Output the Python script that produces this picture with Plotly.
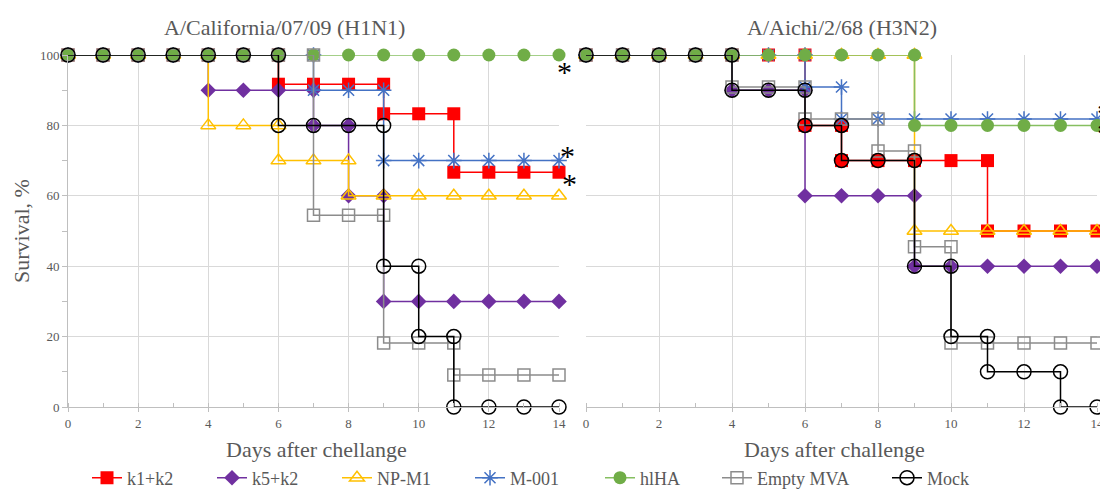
import plotly.graph_objects as go

# page body adds an 8px margin, so the figure is drawn 8px in from the top-left
OFF = 8
W, H = 1108 - OFF, 495 - OFF

series_names = ["k1+k2", "k5+k2", "NP-M1", "M-001", "hlHA", "Empty MVA", "Mock"]

# ---- A/California/07/09 (H1N1) : step-survival curves (day, survival %) ----
h1_k1k2_day = [0, 1, 2, 3, 4, 5, 6, 6, 7, 8, 9, 9, 10, 11, 11, 12, 13, 14]
h1_k1k2_surv = [100, 100, 100, 100, 100, 100, 100, 91.7, 91.7, 91.7, 91.7, 83.3, 83.3, 83.3, 66.7, 66.7, 66.7, 66.7]

h1_k5k2_day = [0, 1, 2, 3, 4, 4, 5, 6, 7, 7, 8, 8, 9, 9, 10, 11, 12, 13, 14]
h1_k5k2_surv = [100, 100, 100, 100, 100, 90, 90, 90, 90, 80, 80, 60, 60, 30, 30, 30, 30, 30, 30]

h1_npm1_day = [0, 1, 2, 3, 4, 4, 5, 6, 6, 7, 8, 8, 9, 10, 11, 12, 13, 14]
h1_npm1_surv = [100, 100, 100, 100, 100, 80, 80, 80, 70, 70, 70, 60, 60, 60, 60, 60, 60, 60]

h1_m001_day = [0, 1, 2, 3, 4, 5, 6, 7, 7, 8, 9, 9, 10, 11, 12, 13, 14]
h1_m001_surv = [100, 100, 100, 100, 100, 100, 100, 100, 90, 90, 90, 70, 70, 70, 70, 70, 70]

h1_hlha_day = [0, 1, 2, 3, 4, 5, 6, 7, 8, 9, 10, 11, 12, 13, 14]
h1_hlha_surv = [100, 100, 100, 100, 100, 100, 100, 100, 100, 100, 100, 100, 100, 100, 100]

h1_empty_day = [0, 1, 2, 3, 4, 5, 6, 7, 7, 8, 9, 9, 10, 11, 11, 12, 13, 14]
h1_empty_surv = [100, 100, 100, 100, 100, 100, 100, 100, 54.5, 54.5, 54.5, 18.2, 18.2, 18.2, 9.1, 9.1, 9.1, 9.1]

h1_mock_day = [0, 1, 2, 3, 4, 5, 6, 6, 7, 8, 9, 9, 10, 10, 11, 11, 12, 13, 14]
h1_mock_surv = [100, 100, 100, 100, 100, 100, 100, 80, 80, 80, 80, 40, 40, 20, 20, 0, 0, 0, 0]

# ---- A/Aichi/2/68 (H3N2) ----
h3_k1k2_day = [0, 1, 2, 3, 4, 5, 6, 6, 7, 7, 8, 9, 10, 11, 11, 12, 13, 14]
h3_k1k2_surv = [100, 100, 100, 100, 100, 100, 100, 80, 80, 70, 70, 70, 70, 70, 50, 50, 50, 50]

h3_k5k2_day = [0, 1, 2, 3, 4, 4, 5, 6, 6, 7, 8, 9, 9, 10, 11, 12, 13, 14]
h3_k5k2_surv = [100, 100, 100, 100, 100, 90, 90, 90, 60, 60, 60, 60, 40, 40, 40, 40, 40, 40]

h3_npm1_day = [0, 1, 2, 3, 4, 5, 6, 7, 8, 9, 9, 10, 11, 12, 13, 14]
h3_npm1_surv = [100, 100, 100, 100, 100, 100, 100, 100, 100, 100, 50, 50, 50, 50, 50, 50]

h3_m001_day = [0, 1, 2, 3, 4, 5, 6, 6, 7, 7, 8, 9, 10, 11, 12, 13, 14]
h3_m001_surv = [100, 100, 100, 100, 100, 100, 100, 90.9, 90.9, 81.8, 81.8, 81.8, 81.8, 81.8, 81.8, 81.8, 81.8]

h3_hlha_day = [0, 1, 2, 3, 4, 5, 6, 7, 8, 9, 9, 10, 11, 12, 13, 14]
h3_hlha_surv = [100, 100, 100, 100, 100, 100, 100, 100, 100, 100, 80, 80, 80, 80, 80, 80]

h3_empty_day = [0, 1, 2, 3, 4, 4, 5, 6, 6, 7, 8, 8, 9, 9, 10, 10, 11, 12, 13, 14]
h3_empty_surv = [100, 100, 100, 100, 100, 90.9, 90.9, 90.9, 81.8, 81.8, 81.8, 72.7, 72.7, 45.5, 45.5, 18.2, 18.2, 18.2, 18.2, 18.2]

h3_mock_day = [0, 1, 2, 3, 4, 4, 5, 6, 6, 7, 7, 8, 9, 9, 10, 10, 11, 11, 12, 13, 13, 14]
h3_mock_surv = [100, 100, 100, 100, 100, 90, 90, 90, 80, 80, 70, 70, 70, 40, 40, 20, 20, 10, 10, 10, 0, 0]

panel_titles = ["A/California/07/09 (H1N1)", "A/Aichi/2/68 (H3N2)"]
x_titles = ["Days after chellange", "Days after challenge"]
y_title = "Survival, %"
x_tickvals = [0, 2, 4, 6, 8, 10, 12, 14]
y_tickvals = [0, 20, 40, 60, 80, 100]

h1_data = [(h1_k1k2_day, h1_k1k2_surv), (h1_k5k2_day, h1_k5k2_surv), (h1_npm1_day, h1_npm1_surv),
           (h1_m001_day, h1_m001_surv), (h1_hlha_day, h1_hlha_surv), (h1_empty_day, h1_empty_surv),
           (h1_mock_day, h1_mock_surv)]
h3_data = [(h3_k1k2_day, h3_k1k2_surv), (h3_k5k2_day, h3_k5k2_surv), (h3_npm1_day, h3_npm1_surv),
           (h3_m001_day, h3_m001_surv), (h3_hlha_day, h3_hlha_surv), (h3_empty_day, h3_empty_surv),
           (h3_mock_day, h3_mock_surv)]

# ---- styles ----
styles = [
    dict(line=dict(color="#FF0000", width=1.5), marker=dict(symbol="square", size=13, color="#FF0000")),
    dict(line=dict(color="#7030A0", width=1.5), marker=dict(symbol="diamond", size=12, color="#7030A0")),
    dict(line=dict(color="#FFC000", width=1.5), marker=dict(symbol="triangle-up-open", size=13, color="#FFC000",
                                                             line=dict(color="#FFC000", width=1.5))),
    dict(line=dict(color="#4472C4", width=1.5), marker=dict(symbol="asterisk-open", size=13, color="#4472C4",
                                                             line=dict(color="#4472C4", width=1.5))),
    dict(line=dict(color="#86BF60", width=1.5), marker=dict(symbol="circle", size=13, color="#70AD47")),
    dict(line=dict(color="#8C8C8C", width=1.5), marker=dict(symbol="square-open", size=12, color="#8C8C8C",
                                                             line=dict(color="#8C8C8C", width=1.5))),
    dict(line=dict(color="#000000", width=1.5), marker=dict(symbol="circle-open", size=14, color="#000000",
                                                             line=dict(color="#000000", width=1.5))),
]

FONT = "Liberation Serif, Times New Roman, serif"
TXT = "#595959"

fig = go.Figure()
legend_ids = ["legend"] + [f"legend{i}" for i in range(2, 8)]
for panel, data in enumerate([h1_data, h3_data]):
    for i, (d, s) in enumerate(data):
        fig.add_trace(go.Scatter(
            x=d, y=s, mode="lines+markers", name=series_names[i],
            xaxis="x" if panel == 0 else "x2", yaxis="y" if panel == 0 else "y2",
            showlegend=(panel == 0), legend=legend_ids[i], legendgroup=series_names[i],
            cliponaxis=False, hoverinfo="x+y+name", **styles[i]))

def px_x(p):
    return (p - OFF) / W

def px_y(p):
    return 1 - (p - OFF) / H

ydom = [px_y(407), px_y(55)]
axis_common = dict(range=[0, 14], tickvals=x_tickvals, showgrid=True, gridcolor="#D9D9D9", gridwidth=1,
                   showline=True, linecolor="#BFBFBF", linewidth=1, ticks="outside", ticklen=4,
                   tickcolor="#BFBFBF", zeroline=False, automargin=False,
                   minor=dict(dtick=1, ticks="inside", ticklen=4, tickcolor="#BFBFBF", showgrid=False),
                   tickfont=dict(family=FONT, size=13, color=TXT))

fig.update_layout(
    width=W, height=H, margin=dict(l=0, r=0, t=0, b=0, autoexpand=False),
    paper_bgcolor="white", plot_bgcolor="white",
    xaxis=dict(domain=[px_x(68), px_x(559)], anchor="y", **axis_common),
    xaxis2=dict(domain=[px_x(586), px_x(1097)], anchor="y2", **axis_common),
    yaxis=dict(domain=ydom, anchor="x", range=[0, 100], tickvals=y_tickvals, showgrid=True,
               gridcolor="#D9D9D9", showline=True, linecolor="#BFBFBF", ticks="outside", ticklen=5,
               tickcolor="#BFBFBF", zeroline=False, automargin=False,
               minor=dict(dtick=10, ticks="outside", ticklen=5, tickcolor="#BFBFBF", showgrid=False),
               tickfont=dict(family=FONT, size=13, color=TXT)),
    yaxis2=dict(domain=ydom, anchor="x2", range=[0, 100], tickvals=y_tickvals, showgrid=True,
                gridcolor="#D9D9D9", showline=False, ticks="", showticklabels=False, zeroline=False,
                automargin=False),
    hovermode="closest",
)

# one legend per entry, placed like the original single-row legend
legend_text_x = [127, 252, 377, 510, 640, 757, 927]
for i, lid in enumerate(legend_ids):
    fig.layout[lid] = dict(x=px_x(legend_text_x[i] - 40), y=px_y(478), xanchor="left", yanchor="middle",
                           orientation="h", bgcolor="rgba(0,0,0,0)", borderwidth=0,
                           font=dict(family=FONT, size=18, color=TXT))

annots = [
    dict(text=panel_titles[0], x=px_x(284), y=px_y(28), size=22, color=TXT, angle=0),
    dict(text=panel_titles[1], x=px_x(842), y=px_y(28), size=22, color=TXT, angle=0),
    dict(text=x_titles[0], x=px_x(316), y=px_y(449), size=22, color=TXT, angle=0),
    dict(text=x_titles[1], x=px_x(834), y=px_y(449), size=22, color=TXT, angle=0),
    dict(text=y_title, x=px_x(22), y=px_y(231), size=22, color=TXT, angle=-90),
]
for a in annots:
    fig.add_annotation(text=a["text"], x=a["x"], y=a["y"], xref="paper", yref="paper",
                       xanchor="center", yanchor="middle", showarrow=False, textangle=a["angle"],
                       font=dict(family=FONT, size=a["size"], color=a["color"]))

# significance asterisks
stars = [(561, 72), (564, 155), (566, 183), (1101, 112), (1101, 132)]
for sx, sy in stars:
    fig.add_annotation(text="*", x=px_x(sx), y=px_y(sy), xref="paper", yref="paper",
                       xanchor="left", yanchor="middle", showarrow=False, xshift=-6,
                       font=dict(family=FONT, size=30, color="#000000"))

fig.write_html("out.html")
